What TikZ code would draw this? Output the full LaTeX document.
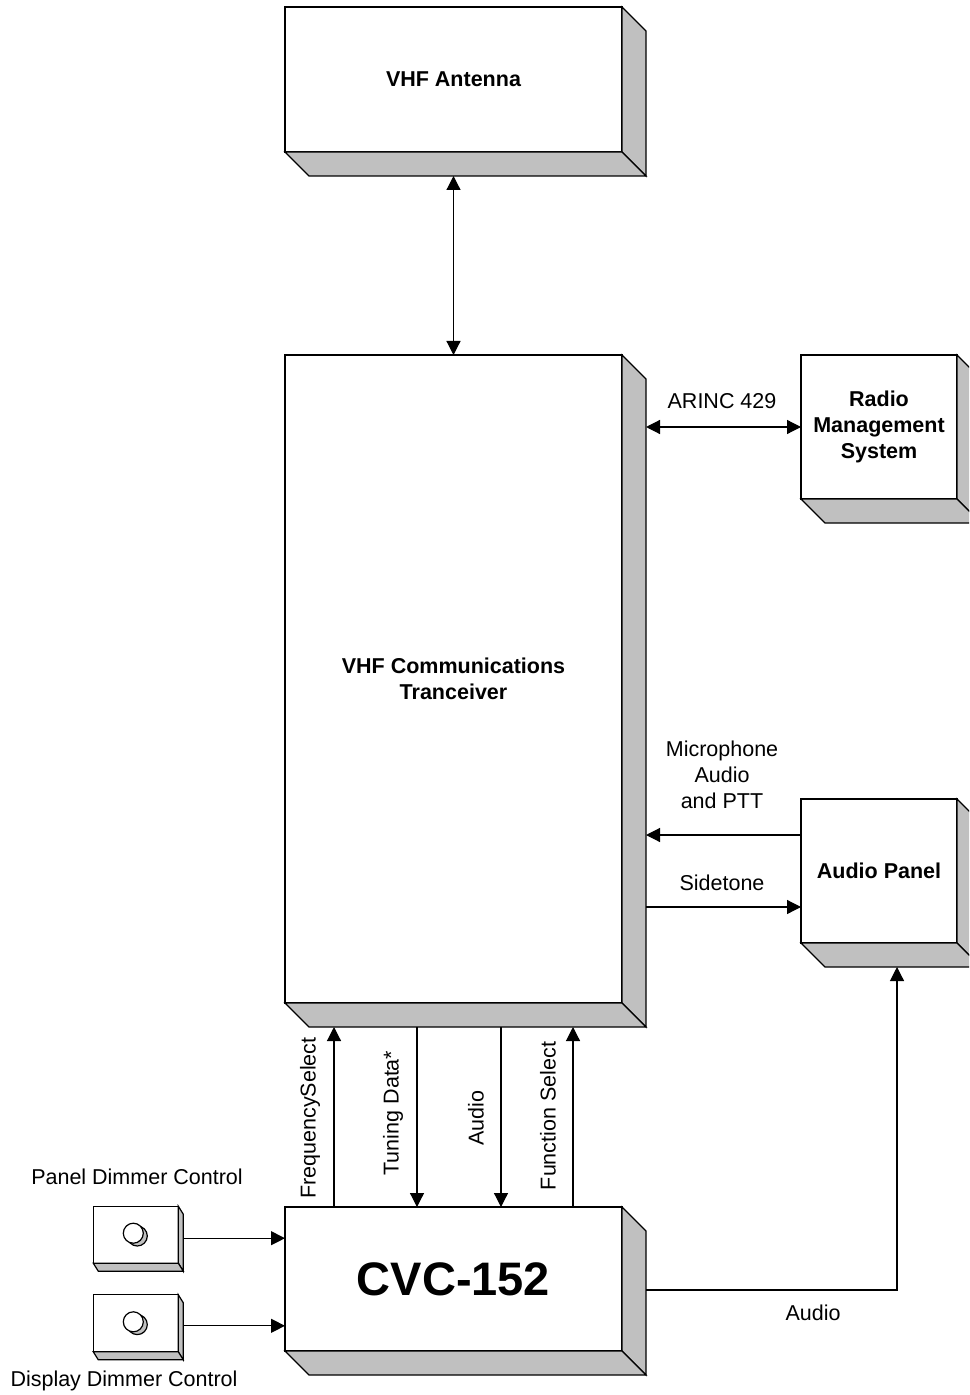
\documentclass[tikz,border=0pt]{standalone}
\usepackage{fontspec}
\setmainfont{Liberation Sans}
\usetikzlibrary{arrows.meta,calc}
\definecolor{shade}{HTML}{C0C0C0}
\begin{document}
\begin{tikzpicture}[x=0.5pt,y=-0.5pt, line width=0.6pt,
  front/.style={draw, fill=white, outer sep=0pt, inner sep=0pt, align=center,
    font=\bfseries\fontsize{10.75}{13}\selectfont},
  lbl/.style={align=center, inner sep=0pt, font=\fontsize{10.75}{13}\selectfont},
  arr/.style={-{Triangle[length=7pt,width=7pt]}},
  darr/.style={{Triangle[length=7pt,width=7pt]}-{Triangle[length=7pt,width=7pt]}}]
\clip (0,0) rectangle (969,1395);
\fill[white] (0,0) rectangle (969,1395);

% front faces
\node[front, minimum width=168.5pt, minimum height=72.5pt] (ant) at (453.5,79.5) {VHF Antenna};
\node[front, minimum width=168.5pt, minimum height=324pt] (vhf) at (453.5,679) {VHF Communications\\Tranceiver};
\node[front, minimum width=78pt, minimum height=72pt] (rms) at (879,427) {Radio\\Management\\System};
\node[front, minimum width=78pt, minimum height=72pt] (ap) at (879,871) {Audio Panel};
\node[front, minimum width=168.5pt, minimum height=72pt,
  font=\bfseries\fontsize{23.5}{28}\selectfont] (cvc) at (453.5,1279) {CVC-152};
\node[front, minimum width=42.5pt, minimum height=28.5pt] (dim1) at (135.8,1234.7) {};
\node[front, minimum width=42.5pt, minimum height=28.5pt] (dim2) at (135.8,1323.3) {};

% 3D side faces
\foreach \n/\dx/\dy in {ant/24/24,vhf/24/24,rms/24/24,ap/24/24,cvc/24/24,dim1/5/8,dim2/5/8}{
  \filldraw[fill=shade] (\n.north east) -- ++(\dx,\dy) -- ($(\n.south east)+(\dx,\dy)$) -- (\n.south east) -- cycle;
  \filldraw[fill=shade] (\n.south west) -- ++(\dx,\dy) -- ($(\n.south east)+(\dx,\dy)$) -- (\n.south east) -- cycle;
}

% knobs
\foreach \n in {dim1,dim2}{
  \filldraw[fill=shade] ($(\n.center)+(1.5,1.3)$) circle[radius=5pt];
  \filldraw[fill=white] ($(\n.center)+(-2.5,-1.5)$) circle[radius=5pt];
}

% connectors
\draw[darr] ($(ant.south)+(0,24)$) -- (vhf.north);
\draw[darr] ($(vhf.east |- rms.west)+(24,0)$) -- (rms.west);
\draw[arr] ($(ap.north west)+(0,36)$) -- ($(vhf.east |- ap.north west)+(24,36)$);
\draw[arr] ($(vhf.east |- ap.south west)+(24,-36)$) -- ($(ap.south west)+(0,-36)$);
\draw[arr] ($(cvc.north west)+(49,0)$) -- ($(vhf.south west)+(49,24)$);
\draw[arr] ($(vhf.south west)+(132,24)$) -- ($(cvc.north west)+(132,0)$);
\draw[arr] ($(vhf.south west)+(216,24)$) -- ($(cvc.north west)+(216,0)$);
\draw[arr] ($(cvc.north west)+(288,0)$) -- ($(vhf.south west)+(288,24)$);
\draw[arr] ($(cvc.east)+(24,11)$) -| ($(ap.south west)+(96,24)$);
\draw[arr] ($(dim1.east)+(5,3.5)$) -- ($(cvc.west |- dim1.east)+(0,3.5)$);
\draw[arr] ($(dim2.east)+(5,2.5)$) -- ($(cvc.west |- dim2.east)+(0,2.5)$);

% labels
\node[lbl] (l-arinc) at (722,401) {ARINC 429};
\node[lbl] (l-mic) at (722,775) {Microphone\\Audio\\and PTT};
\node[lbl] (l-side) at (722,883) {Sidetone};
\node[lbl] (l-audio) at (813,1313) {Audio};
\node[lbl] (l-pdc) at (137,1177) {Panel Dimmer Control};
\node[lbl] (l-ddc) at (124,1381) {Display Dimmer Control};
\node[lbl, rotate=90] (l-fs) at (310,1118) {FrequencySelect};
\node[lbl, rotate=90] (l-td) at (393,1113) {Tuning Data*};
\node[lbl, rotate=90] (l-au) at (476,1118) {Audio};
\node[lbl, rotate=90] (l-fn) at (548,1116) {Function Select};
\end{tikzpicture}
\end{document}
